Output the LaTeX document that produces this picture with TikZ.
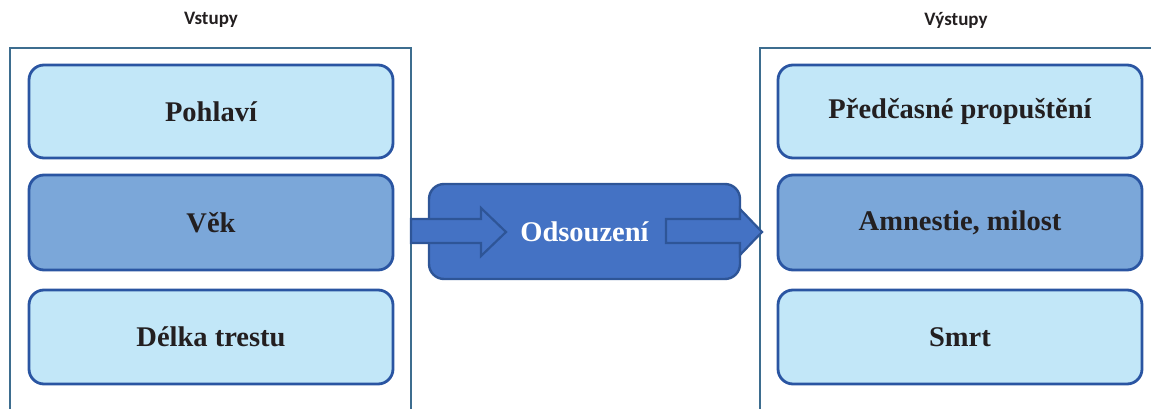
\documentclass[tikz,border=0pt]{standalone}
\usepackage{fontspec}
\setmainfont{Liberation Serif}
\newfontfamily\headfont{Carlito}
\definecolor{lightfill}{HTML}{C2E7F8}
\definecolor{midfill}{HTML}{7BA7D9}
\definecolor{boxborder}{HTML}{2A55A2}
\definecolor{centerfill}{HTML}{4472C4}
\definecolor{centerborder}{HTML}{2E5597}
\definecolor{framecol}{HTML}{3D6D8F}
\definecolor{textdark}{HTML}{231F20}
\tikzset{
  itembox/.style={draw=boxborder, line width=2.8pt, rounded corners=15pt, fill=lightfill,
    minimum width=364pt, minimum height=93pt, inner sep=0pt,
    font=\fontsize{28.5}{33}\selectfont\bfseries, text=textdark},
  midbox/.style={itembox, fill=midfill},
  centerbox/.style={draw=centerborder, line width=2.4pt, rounded corners=15pt, fill=centerfill,
    minimum width=311pt, minimum height=95pt, inner sep=0pt,
    font=\fontsize{28.5}{33}\selectfont\bfseries, text=white},
  frameline/.style={draw=framecol, line width=2.4pt},
  heading/.style={font=\headfont\fontsize{19}{23}\selectfont\bfseries, text=textdark},
  blockarrow/.style={draw=centerborder, line width=2.2pt, fill=centerfill, line join=miter}
}
\begin{document}
\begin{tikzpicture}[x=1pt,y=-1pt]
\useasboundingbox (0,0) rectangle (1151,409);
% frames
\draw[frameline] (10,412) -- (10,48) -- (411,48) -- (411,412);
\draw[frameline] (760,412) -- (760,48) -- (1155,48);
% headings
\node[heading] (hin) at (211,20) {Vstupy};
\node[heading] (hout) at (956,20) {Výstupy};
% input boxes
\node[itembox] (in1) at (211,111.5) {Pohlaví};
\node[midbox, minimum height=95pt] (in2) at (211,222.5) {Věk};
\node[itembox, minimum height=94pt] (in3) at (211,337) {Délka trestu};
% output boxes
\node[itembox] (out1) at (960,111.5) {Předčasné propuštění};
\node[midbox, minimum height=95pt] (out2) at (960,222.5) {Amnestie, milost};
\node[itembox, minimum height=94pt] (out3) at (960,337) {Smrt};
% center
\node[centerbox] (mid) at (584.5,231.5) {Odsouzení};
% arrows
\draw[blockarrow] (411,219) -- (481,219) -- (481,208) -- (506,232) -- (481,256) -- (481,243) -- (411,243) -- cycle;
\draw[blockarrow] (666,219) -- (740,219) -- (740,209) -- (762,232) -- (740,255) -- (740,243) -- (666,243) -- cycle;
\end{tikzpicture}
\end{document}
